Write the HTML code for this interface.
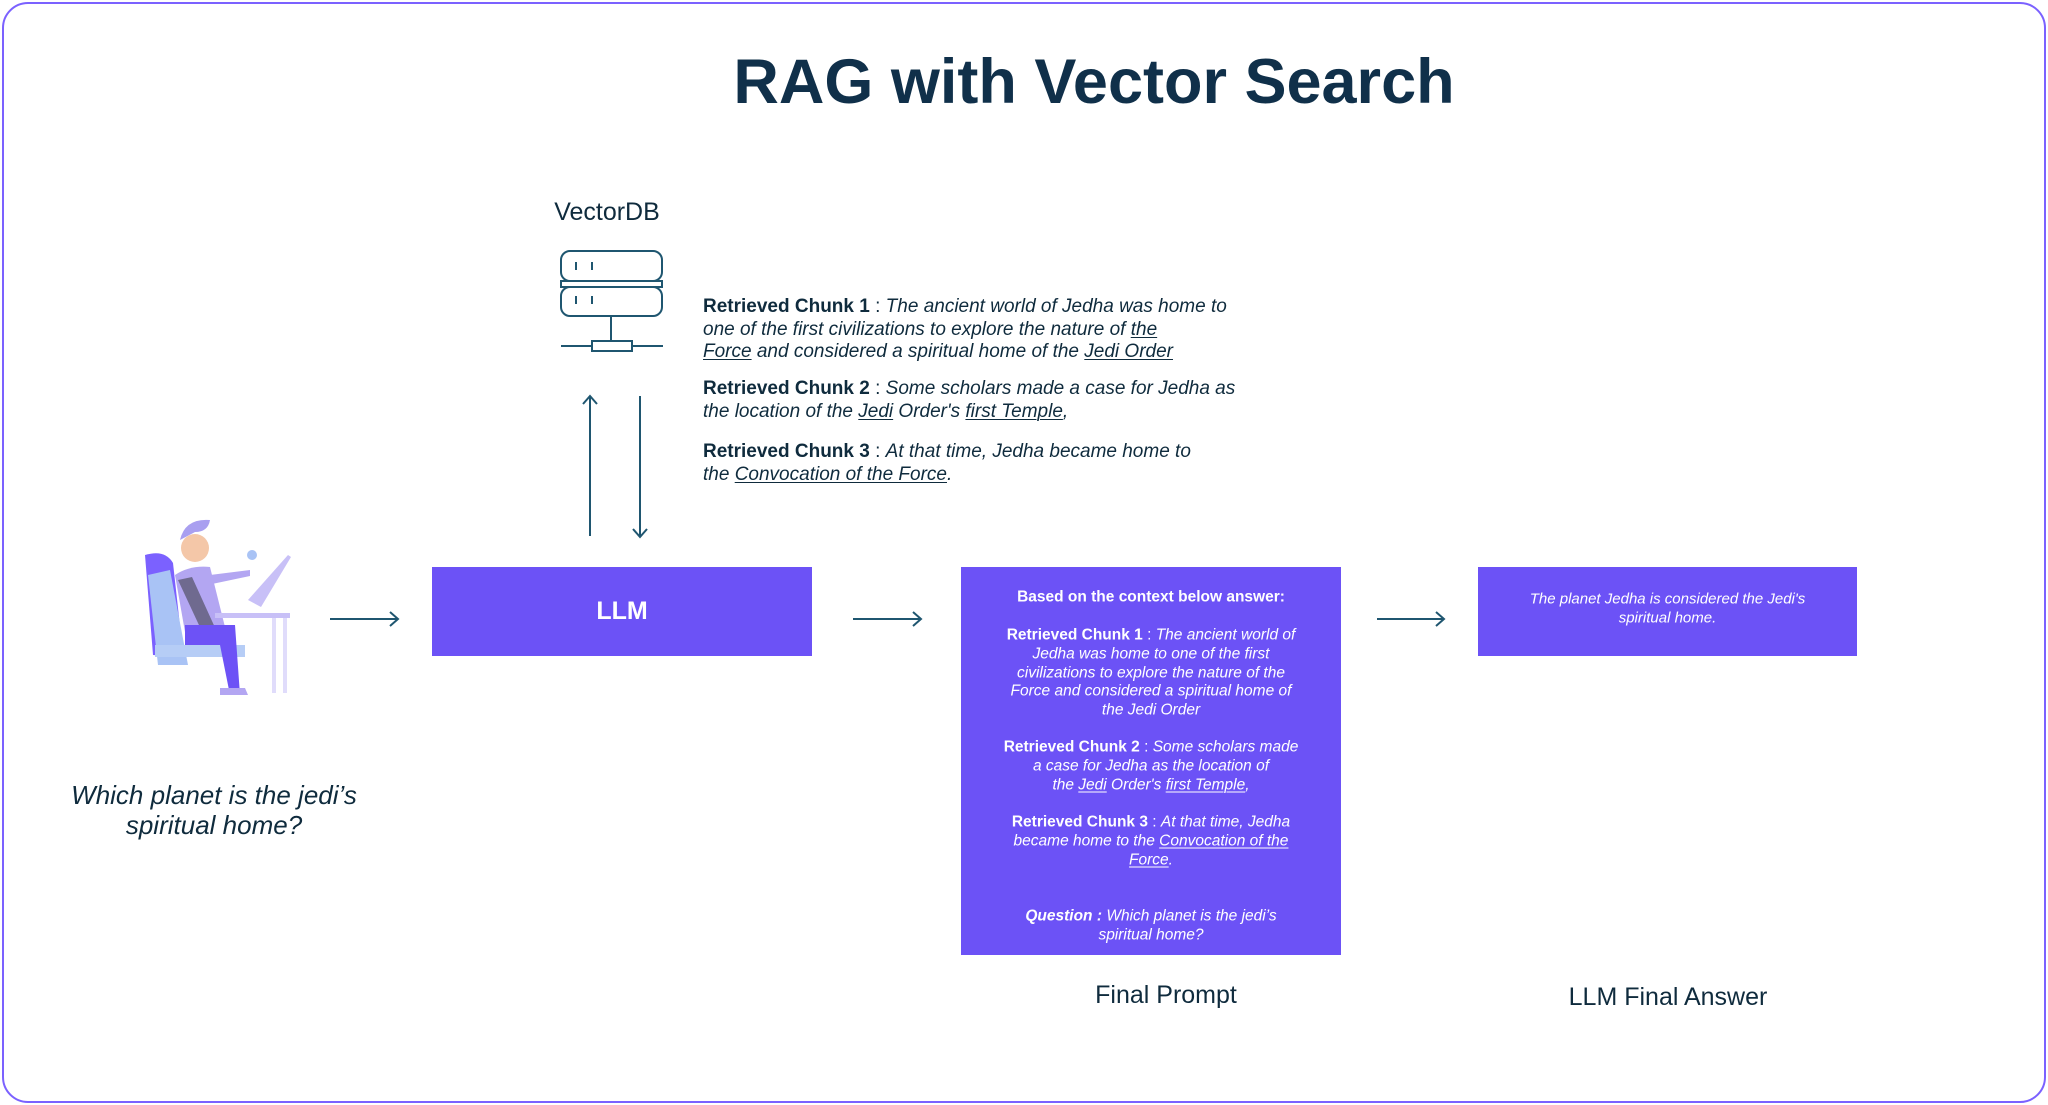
<!DOCTYPE html>
<html><head><meta charset="utf-8"><style>
*{margin:0;padding:0;box-sizing:border-box}
body{width:2048px;height:1105px;background:#fff;position:relative;overflow:hidden;font-family:"Liberation Sans",sans-serif;color:#0f2b3d}
.frame{position:absolute;left:2px;top:2px;width:2044px;height:1101px;border:2.5px solid #7b61ff;border-radius:26px}
.t{position:absolute;white-space:nowrap}
.box{position:absolute;background:#6c52f6}
.c{position:absolute;left:0;width:100%;text-align:center;white-space:nowrap;color:#fff;font-size:15.5px;line-height:19px;transform:translateY(-50%)}
.c i{font-style:italic}
u{text-decoration-thickness:1px;text-underline-offset:2px}
.ch{position:absolute;left:703px;font-size:19px;line-height:22.5px;color:#0f2b3d;white-space:nowrap}
</style></head><body>
<div class="frame"></div>
<div class="t" style="left:0;width:2188px;text-align:center;top:46px;font-size:63px;font-weight:bold;color:#10304a">RAG with Vector Search</div>
<div class="t" style="left:552px;top:198px;font-size:25px;width:110px;text-align:center">VectorDB</div>
<svg style="position:absolute;left:0;top:0" width="2048" height="1105">
<g fill="none" stroke="#1f5670" stroke-width="2">
<rect x="561" y="251" width="101" height="30" rx="9"/>
<rect x="561" y="281" width="101" height="6"/>
<rect x="561" y="287" width="101" height="29" rx="9"/>
<line x1="576" y1="262" x2="576" y2="270"/><line x1="592" y1="262" x2="592" y2="270"/>
<line x1="576" y1="296" x2="576" y2="304"/><line x1="592" y1="296" x2="592" y2="304"/>
<line x1="611" y1="316" x2="611" y2="341"/>
<line x1="561" y1="346" x2="663" y2="346"/>
<rect x="592" y="341" width="40" height="10" fill="#fff"/>
<line x1="590" y1="536" x2="590" y2="396"/><polyline points="583,404 590,396 597,404"/>
<line x1="640" y1="396" x2="640" y2="537"/><polyline points="633,529 640,537 647,529"/>
<line x1="330" y1="619" x2="397" y2="619"/><polyline points="390,612 398,619 390,626"/>
<line x1="853" y1="619" x2="920" y2="619"/><polyline points="913,612 921,619 913,626"/>
<line x1="1377" y1="619" x2="1443" y2="619"/><polyline points="1436,612 1444,619 1436,626"/>
</g>
<!-- person -->
<g>
<path d="M145 555 q20-6 28 8 l10 90 q-10 4 -30 2 z" fill="#7b61ff"/>
<path d="M148 575 l22 -5 l18 95 l-30 0 z" fill="#a9c3f5"/>
<rect x="155" y="645" width="90" height="12" fill="#b6cdf6"/>
<path d="M175 575 q15-10 35-8 l15 60 l-40 5 z" fill="#b3a6f2"/>
<path d="M178 580 l14 -3 l25 55 l-12 6 z" fill="#6f6a8f"/>
<path d="M185 625 l50 0 l5 70 l-10 0 l-10 -50 l-35 0 z" fill="#6d52f6"/>
<circle cx="195" cy="548" r="14" fill="#f4c7a8"/>
<path d="M180 540 q5-22 30-20 q-2 12-15 12 z" fill="#a99ff0"/>
<path d="M210 575 l40 -5 l0 6 l-38 8 z" fill="#b3a6f2"/>
<circle cx="252" cy="555" r="5" fill="#a9c3f5"/>
<path d="M248 600 l40 -45 l3 2 l-30 50 z" fill="#c8c0f7"/>
<rect x="215" y="613" width="75" height="5" fill="#c8c0f7"/>
<rect x="272" y="618" width="4" height="75" fill="#e0dcfb"/>
<rect x="283" y="618" width="4" height="75" fill="#e0dcfb"/>
<path d="M220 688 l25 0 l3 7 l-28 0 z" fill="#b3a6f2"/>
</g>
</svg>
<div class="t" style="left:0;width:428px;text-align:center;top:780px;font-size:26px;line-height:30px;font-style:italic">Which planet is the jedi’s<br>spiritual home?</div>
<div class="ch" style="top:296px"><b>Retrieved Chunk 1</b> : <i>The ancient world of Jedha was home to<br>one of the first civilizations to explore the nature of <u>the</u><br><u>Force</u> and considered a spiritual home of the <u>Jedi Order</u></i></div>
<div class="ch" style="top:378px"><b>Retrieved Chunk 2</b> : <i>Some scholars made a case for Jedha as<br>the location of the <u>Jedi</u> Order's <u>first Temple</u>,</i></div>
<div class="ch" style="top:441px"><b>Retrieved Chunk 3</b> : <i>At that time, Jedha became home to<br>the <u>Convocation of the Force</u>.</i></div>
<div class="box" style="left:432px;top:567px;width:380px;height:89px;color:#fff;font-size:25px;font-weight:bold;text-align:center;line-height:89px">LLM</div>
<div class="box" style="left:961px;top:567px;width:380px;height:388px">
<div class="c" style="top:30px;font-weight:bold">Based on the context below answer:</div>
<div class="c" style="top:68px"><b>Retrieved Chunk 1</b> : <i>The ancient world of</i></div>
<div class="c" style="top:87px"><i>Jedha was home to one of the first</i></div>
<div class="c" style="top:106px"><i>civilizations to explore the nature of the</i></div>
<div class="c" style="top:124px"><i>Force and considered a spiritual home of</i></div>
<div class="c" style="top:143px"><i>the Jedi Order</i></div>
<div class="c" style="top:180px"><b>Retrieved Chunk 2</b> : <i>Some scholars made</i></div>
<div class="c" style="top:199px"><i>a case for Jedha as the location of</i></div>
<div class="c" style="top:218px"><i>the <u>Jedi</u> Order's <u>first Temple</u>,</i></div>
<div class="c" style="top:255px"><b>Retrieved Chunk 3</b> : <i>At that time, Jedha</i></div>
<div class="c" style="top:274px"><i>became home to the <u>Convocation of the</u></i></div>
<div class="c" style="top:293px"><i><u>Force</u>.</i></div>
<div class="c" style="top:349px"><b><i>Question :</i></b> <i>Which planet is the jedi’s</i></div>
<div class="c" style="top:368px"><i>spiritual home?</i></div>
</div>
<div class="box" style="left:1478px;top:567px;width:379px;height:89px">
<div class="c" style="top:32px;font-size:15px"><i>The planet Jedha is considered the Jedi's</i></div>
<div class="c" style="top:51px;font-size:15px"><i>spiritual home.</i></div>
</div>
<div class="t" style="left:966px;width:400px;text-align:center;top:981px;font-size:25px">Final Prompt</div>
<div class="t" style="left:1468px;width:400px;text-align:center;top:983px;font-size:25px">LLM Final Answer</div>
</body></html>
